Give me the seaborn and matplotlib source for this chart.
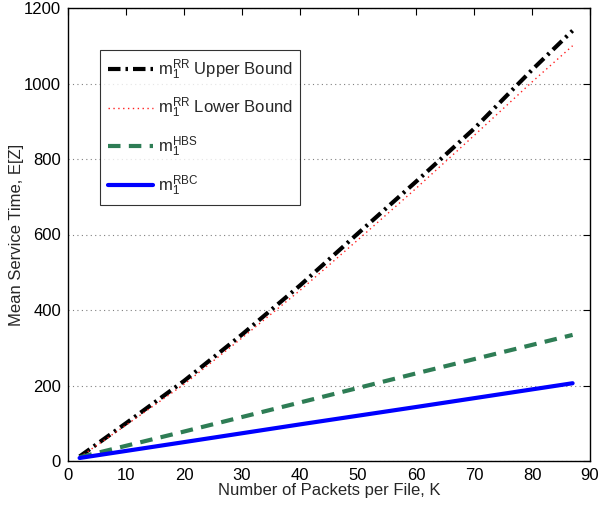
import matplotlib
matplotlib.use("Agg")
import matplotlib.pyplot as plt
import seaborn as sns
import pandas as pd

# Data
k_rr = [2, 10, 20, 30, 40, 50, 60, 70, 80, 87]
rr_upper = [12, 100, 212, 335, 465, 603, 740, 880, 1036, 1140]
rr_lower = [10, 95, 203, 326, 452, 586, 722, 862, 1004, 1100]
k_lin = [2, 20, 40, 60, 87]
hbs = [10, 78, 155, 232, 334]
rbc = [8, 50, 97, 143, 206]

labels = [r"$\mathrm{m}_1^{\mathrm{RR}}$ Upper Bound",
          r"$\mathrm{m}_1^{\mathrm{RR}}$ Lower Bound",
          r"$\mathrm{m}_1^{\mathrm{HBS}}$",
          r"$\mathrm{m}_1^{\mathrm{RBC}}$"]
x_ticks = list(range(0, 91, 10))
y_ticks = list(range(0, 1201, 200))

sns.set_style("white")
plt.rcParams["font.family"] = ["Liberation Sans", "DejaVu Sans"]
plt.rcParams["mathtext.fontset"] = "custom"
plt.rcParams["mathtext.rm"] = "Liberation Sans"
plt.rcParams["mathtext.it"] = "Liberation Sans"

fig = plt.figure(figsize=(5.98, 5.05), dpi=100)
ax = fig.add_axes([68/598, 1 - 461/505, 522/598, 453/505])

sns.lineplot(x=k_rr, y=rr_upper, ax=ax, color="black", lw=3,
             linestyle=(0, (3, 1.2, 0.6, 1.2)), label=labels[0])
sns.lineplot(x=k_rr, y=rr_lower, ax=ax, color="#ff2020", lw=1.0,
             linestyle=(0, (1, 2.5)), label=labels[1])
sns.lineplot(x=k_lin, y=hbs, ax=ax, color="#2e7d55", lw=3,
             linestyle=(0, (3, 2)), label=labels[2])
sns.lineplot(x=k_lin, y=rbc, ax=ax, color="#0000ff", lw=3,
             linestyle="-", label=labels[3])

ax.set_xlim(0, 90)
ax.set_ylim(0, 1200)
ax.set_xticks(x_ticks)
ax.set_yticks(y_ticks)
ax.tick_params(direction="in", top=True, right=True, labelsize=12, length=5,
               width=0.8, colors="black", pad=5)
ax.yaxis.grid(True, linestyle=(0, (1, 3)), color="#808080", linewidth=0.8)
ax.xaxis.grid(False)
for s in ax.spines.values():
    s.set_color("black")
    s.set_linewidth(1.0)

ax.set_xlabel("Number of Packets per File, K", fontsize=12, labelpad=0)
ax.set_ylabel("Mean Service Time, E[Z]", fontsize=12, labelpad=0)

leg = ax.legend(loc="upper left", bbox_to_anchor=(32/522, 411/453),
                borderaxespad=0, fontsize=12, frameon=True, fancybox=False,
                handlelength=2.7, labelspacing=0.85, handletextpad=0.3,
                borderpad=0.45)
leg.get_frame().set_edgecolor("black")
leg.get_frame().set_linewidth(0.8)

fig.savefig("out.png", dpi=100)
